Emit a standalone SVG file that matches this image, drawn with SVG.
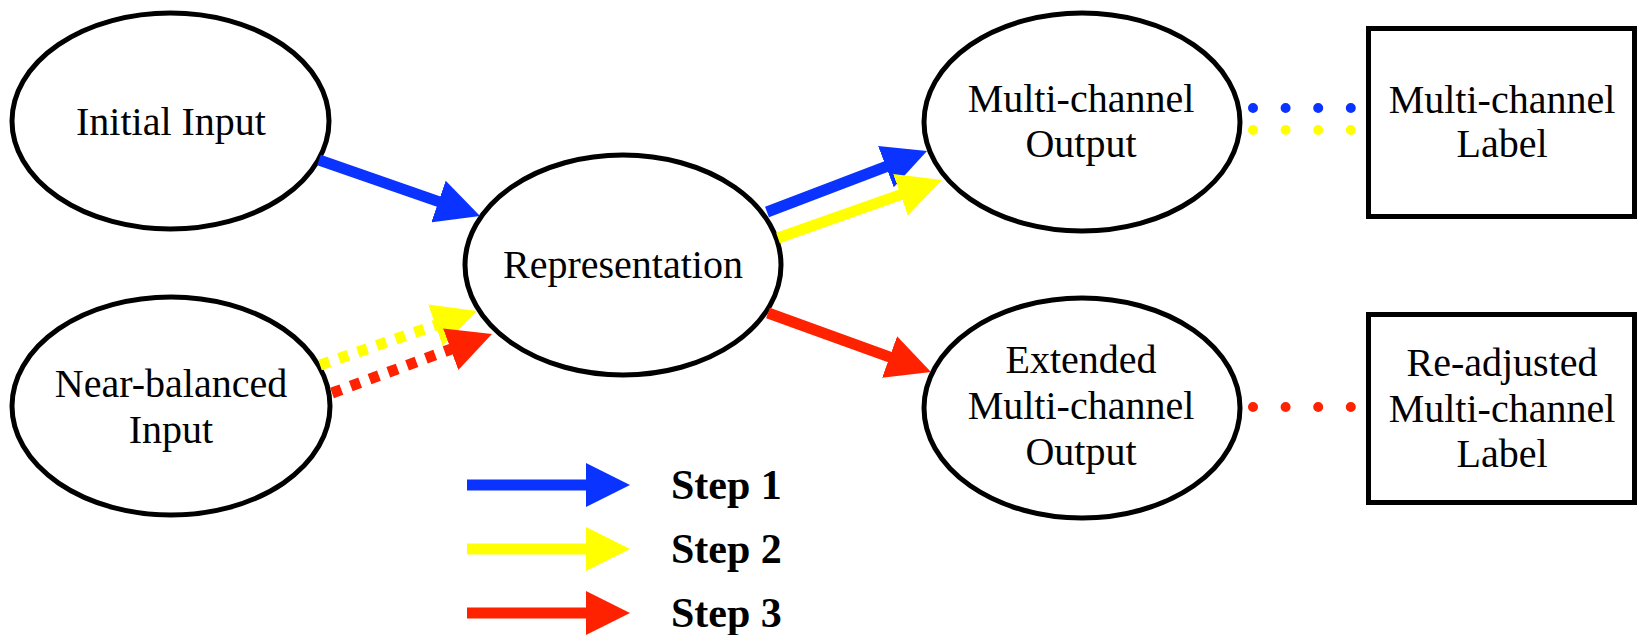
<svg xmlns="http://www.w3.org/2000/svg" width="1645" height="635" viewBox="0 0 1645 635">
  <style>
    .node { fill: #ffffff; stroke: #000000; stroke-width: 5; }
    .box { fill: #ffffff; stroke: #000000; stroke-width: 5; }
    .lbl { font-family: "Liberation Serif", "Times New Roman", serif; font-size: 40px; fill: #000000; text-anchor: middle; }
    .key { font-family: "Liberation Serif", "Times New Roman", serif; font-size: 42px; font-weight: bold; fill: #000000; }
    .s1 { stroke: #0b33ff; }
    .s2 { stroke: #ffff00; }
    .s3 { stroke: #ff2200; }
    .edge { stroke-width: 11; fill: none; stroke-linecap: butt; }
    .dash { stroke-dasharray: 10 10; }
    .dots { stroke-width: 10; stroke-linecap: round; stroke-dasharray: 0 32.6; fill: none; }
  </style>
  <defs>
    <marker id="head1" viewBox="0 0 4 4" refX="0.3" refY="2" markerWidth="4" markerHeight="4" markerUnits="strokeWidth" orient="auto">
      <path d="M0,0 L4,2 L0,4 z" fill="#0b33ff"/>
    </marker>
    <marker id="head2" viewBox="0 0 4 4" refX="0.3" refY="2" markerWidth="4" markerHeight="4" markerUnits="strokeWidth" orient="auto">
      <path d="M0,0 L4,2 L0,4 z" fill="#ffff00"/>
    </marker>
    <marker id="head3" viewBox="0 0 4 4" refX="0.3" refY="2" markerWidth="4" markerHeight="4" markerUnits="strokeWidth" orient="auto">
      <path d="M0,0 L4,2 L0,4 z" fill="#ff2200"/>
    </marker>
  </defs>

  <g id="initial-input">
    <ellipse class="node" cx="170.5" cy="121" rx="158.5" ry="108"/>
    <text class="lbl" x="171" y="135">Initial Input</text>
  </g>

  <g id="near-balanced-input">
    <ellipse class="node" cx="171" cy="406" rx="159" ry="109"/>
    <text class="lbl" x="171" y="397">Near-balanced</text>
    <text class="lbl" x="171" y="443">Input</text>
  </g>

  <g id="representation">
    <ellipse class="node" cx="623" cy="265" rx="158" ry="110"/>
    <text class="lbl" x="623" y="278">Representation</text>
  </g>

  <g id="multi-channel-output">
    <ellipse class="node" cx="1082" cy="122" rx="158" ry="109"/>
    <text class="lbl" x="1081" y="112">Multi-channel</text>
    <text class="lbl" x="1081" y="157">Output</text>
  </g>

  <g id="extended-output">
    <ellipse class="node" cx="1082" cy="408" rx="158" ry="110"/>
    <text class="lbl" x="1081" y="373">Extended</text>
    <text class="lbl" x="1081" y="419">Multi-channel</text>
    <text class="lbl" x="1081" y="465">Output</text>
  </g>

  <g id="multi-channel-label">
    <rect class="box" x="1368.5" y="28.5" width="266" height="188"/>
    <text class="lbl" x="1502" y="113">Multi-channel</text>
    <text class="lbl" x="1502" y="157">Label</text>
  </g>

  <g id="readjusted-label">
    <rect class="box" x="1368.5" y="314.5" width="266" height="188"/>
    <text class="lbl" x="1502" y="376">Re-adjusted</text>
    <text class="lbl" x="1502" y="422">Multi-channel</text>
    <text class="lbl" x="1502" y="467">Label</text>
  </g>

  <g id="connectors">
    <!-- step 1 -->
    <line class="edge s1" x1="319" y1="160" x2="441.6" y2="202.6" marker-end="url(#head1)"/>
    <line class="edge s1" x1="767" y1="212" x2="889" y2="165.5" marker-end="url(#head1)"/>
    <!-- step 2 -->
    <line class="edge s2 dash" x1="320" y1="365" x2="438.5" y2="324.2" marker-end="url(#head2)"/>
    <line class="edge s2" x1="778" y1="238" x2="903.6" y2="193.6" marker-end="url(#head2)"/>
    <!-- step 3 -->
    <line class="edge s3 dash" x1="332" y1="393" x2="453.8" y2="348.1" marker-end="url(#head3)"/>
    <line class="edge s3" x1="768" y1="313" x2="892.7" y2="358.1" marker-end="url(#head3)"/>
    <!-- output-to-label associations -->
    <line class="dots s1" x1="1253" y1="108" x2="1352" y2="108"/>
    <line class="dots s2" x1="1253" y1="130" x2="1352" y2="130"/>
    <line class="dots s3" x1="1253" y1="407" x2="1352" y2="407"/>
  </g>

  <g id="legend">
    <line class="edge s1" x1="467" y1="485" x2="589.3" y2="485" marker-end="url(#head1)"/>
    <text class="key" x="671" y="499">Step 1</text>
    <line class="edge s2" x1="467" y1="549" x2="589.3" y2="549" marker-end="url(#head2)"/>
    <text class="key" x="671" y="563">Step 2</text>
    <line class="edge s3" x1="467" y1="613" x2="589.3" y2="613" marker-end="url(#head3)"/>
    <text class="key" x="671" y="627">Step 3</text>
  </g>
</svg>
